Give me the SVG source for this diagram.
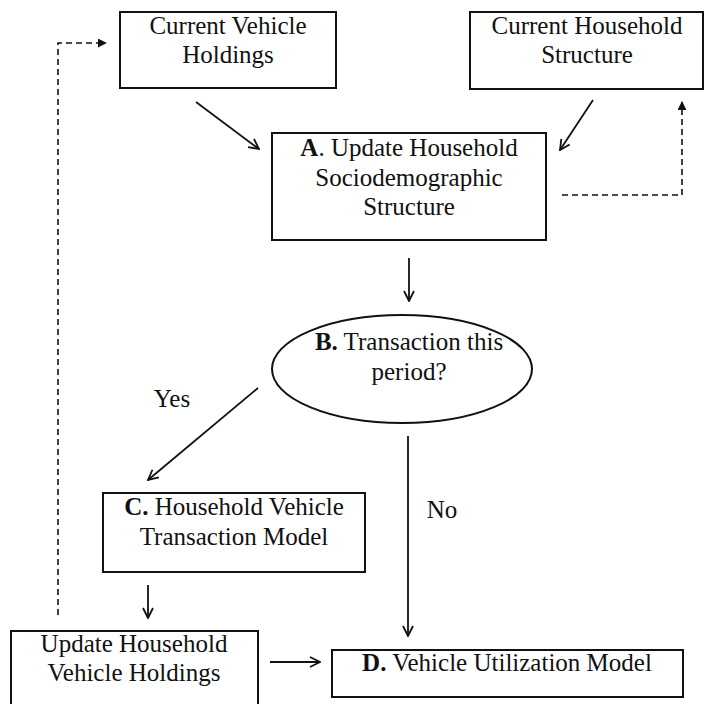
<svg xmlns="http://www.w3.org/2000/svg" width="705" height="704" viewBox="0 0 705 704">
<defs>
<marker id="open" viewBox="0 0 12 12" refX="11" refY="6" markerWidth="12" markerHeight="12" markerUnits="userSpaceOnUse" orient="auto">
<path d="M1,1 L11,6 L1,11" fill="none" stroke="#111" stroke-width="1.8"/>
</marker>
<marker id="fill" viewBox="0 0 10 10" refX="9" refY="5" markerWidth="9" markerHeight="9" markerUnits="userSpaceOnUse" orient="auto">
<path d="M0,0 L10,5 L0,10 z" fill="#111"/>
</marker>
</defs>
<rect width="705" height="704" fill="#fff"/>
<g id="connectors" fill="none" stroke="#111" stroke-width="1.8">
<line x1="196" y1="102" x2="259" y2="149" marker-end="url(#open)"/>
<line x1="593" y1="100" x2="560" y2="150" marker-end="url(#open)"/>
<polyline points="562,195 682,195 682,102" stroke-width="1.6" stroke-dasharray="6,4" marker-end="url(#fill)"/>
<polyline points="58,615 58,43 106,43" stroke-width="1.6" stroke-dasharray="6,4" marker-end="url(#fill)"/>
<line x1="409" y1="258" x2="409" y2="301" marker-end="url(#open)"/>
<line x1="258" y1="388" x2="148" y2="480" marker-end="url(#open)"/>
<line x1="408" y1="436" x2="408" y2="636" marker-end="url(#open)"/>
<line x1="148" y1="585" x2="148" y2="618" marker-end="url(#open)"/>
<line x1="270" y1="662" x2="320" y2="662" marker-end="url(#open)"/>
</g>
<g id="labels" font-family="Liberation Serif" font-size="25" fill="#111" text-anchor="middle">
<text x="172" y="407">Yes</text>
<text x="442" y="518">No</text>
</g>
<g id="cvh" font-family="Liberation Serif" font-size="25" text-anchor="middle">
<rect x="120" y="12" width="216" height="76" fill="#fff" stroke="#111" stroke-width="2"/>
<text x="228" y="34" fill="#111">Current Vehicle</text>
<text x="228" y="63" fill="#111">Holdings</text>
</g>
<g id="chs" font-family="Liberation Serif" font-size="25" text-anchor="middle">
<rect x="470" y="12" width="233" height="77" fill="#fff" stroke="#111" stroke-width="2"/>
<text x="587" y="34" fill="#111">Current Household</text>
<text x="587" y="63" fill="#111">Structure</text>
</g>
<g id="nodeA" font-family="Liberation Serif" font-size="25" text-anchor="middle">
<rect x="272" y="133" width="274" height="107" fill="#fff" stroke="#111" stroke-width="2"/>
<text x="409" y="156" fill="#111"><tspan font-weight="bold">A</tspan>. Update Household</text>
<text x="409" y="186" fill="#111">Sociodemographic</text>
<text x="409" y="215" fill="#111">Structure</text>
</g>
<g id="nodeB" font-family="Liberation Serif" font-size="25" text-anchor="middle">
<ellipse cx="402" cy="369" rx="130" ry="54" fill="#fff" stroke="#111" stroke-width="2"/>
<text x="409" y="350" fill="#111"><tspan font-weight="bold">B.</tspan> Transaction this</text>
<text x="409" y="380" fill="#111">period?</text>
</g>
<g id="nodeC" font-family="Liberation Serif" font-size="25" text-anchor="middle">
<rect x="103" y="493" width="262" height="79" fill="#fff" stroke="#111" stroke-width="2"/>
<text x="234" y="515" fill="#111"><tspan font-weight="bold">C.</tspan> Household Vehicle</text>
<text x="234" y="545" fill="#111">Transaction Model</text>
</g>
<g id="update" font-family="Liberation Serif" font-size="25" text-anchor="middle">
<rect x="11" y="631" width="247" height="90" fill="#fff" stroke="#111" stroke-width="2"/>
<text x="134" y="652" fill="#111">Update Household</text>
<text x="134" y="681" fill="#111">Vehicle Holdings</text>
</g>
<g id="nodeD" font-family="Liberation Serif" font-size="25" text-anchor="middle">
<rect x="332" y="650" width="351" height="47" fill="#fff" stroke="#111" stroke-width="2"/>
<text x="507" y="671" fill="#111"><tspan font-weight="bold">D.</tspan> Vehicle Utilization Model</text>
</g>
</svg>
